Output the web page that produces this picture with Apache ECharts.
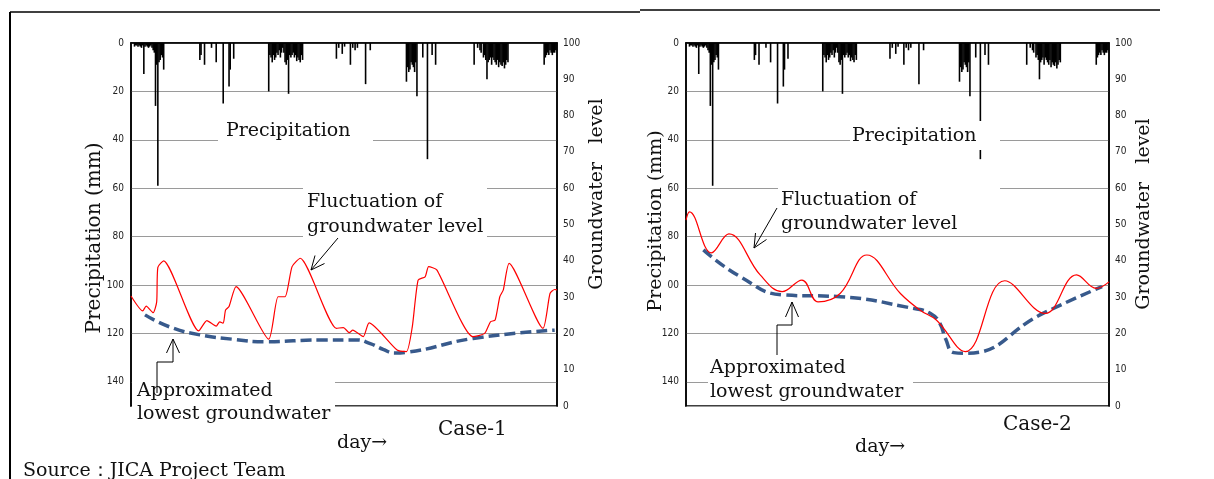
<!DOCTYPE html>
<html>
<head>
<meta charset="utf-8">
<script src="https://cdn.jsdelivr.net/npm/echarts@6/dist/echarts.min.js"></script>
<style>html,body{margin:0;background:#fff}#main{width:1214px;height:479px}</style>
</head>
<body>
<div id="main"></div>
<script>
// daily precipitation (same record used for both cases), day index -> mm
var rainDay = [3, 4, 5, 6, 7, 8, 9, 10, 11, 12, 13, 14, 15, 16, 17, 18, 19, 20, 21, 22, 23, 24, 25, 26, 27, 28,
  59, 60, 63, 69, 73, 79, 84, 85, 88,
  118, 119, 120, 121, 122, 123, 124, 125, 126, 127, 128, 129, 130, 131, 132, 133, 134, 135, 136, 137, 138, 139, 140, 141, 142, 143, 144, 145, 146, 147,
  176, 178, 181, 183, 188, 190, 192, 194, 201, 205,
  236, 237, 238, 239, 240, 241, 242, 243, 244, 245, 250, 254, 258, 261,
  294, 297, 299, 300, 302, 303, 304, 305, 306, 307, 308, 309, 310, 311, 312, 313, 314, 315, 316, 317, 318, 319, 320, 321, 322, 323,
  354, 355, 356, 357, 358, 359, 360, 361, 362, 363, 364];
var rainMm = [1.5, 1, 1, 1.5, 1, 1.5, 2, 1, 12.8, 1.5, 1, 1.5, 2, 1.5, 1, 2, 3, 4, 26, 9, 59, 8, 7, 5, 6, 11,
  7, 5, 9, 2, 8, 25, 18, 11, 6.5,
  20, 5, 6, 8, 5, 7, 6, 4, 5, 3, 6, 4, 2, 4, 8, 9, 7, 21, 5, 6, 5, 4, 6, 5, 7.5, 6, 7, 8, 5, 7,
  6.5, 2, 4.5, 1.5, 9, 2, 3, 2, 17, 3,
  16, 10, 12, 11, 8, 9, 10, 12, 8, 22, 6, 48, 5, 9,
  9, 2, 3, 4, 6, 5, 7, 15, 8, 7, 6, 9, 6, 7, 8, 9, 7, 10, 8, 9, 9.5, 8, 10.5, 9, 7, 8,
  9, 6, 5, 4, 5, 3, 4, 5, 4, 4, 3];

// Case-1 groundwater level
var gw1Day = [0, 10, 13, 19, 22, 23, 28, 58, 65, 73, 76, 79, 81, 84, 90, 118, 126, 132, 138, 145,
  176, 182, 187, 190, 199, 204, 228, 236, 241, 246, 252, 255, 262, 293, 303, 308, 312, 316, 319, 324, 353, 359, 363, 365];
var gw1Level = [30.3, 26.2, 27.5, 25.7, 28.7, 38.2, 40, 20.7, 23.5, 22, 23.2, 22.8, 26.4, 27.4, 32.9, 18.4, 30.1, 30.1, 38.4, 40.7,
  21.4, 21.6, 20.2, 20.9, 19.1, 22.9, 15.4, 15, 21.8, 34.7, 35.6, 38.4, 37.5, 19.1, 20, 23.2, 23.7, 30.1, 32, 39.3, 21.4, 31, 32.1, 32];
var low1Day = [12, 33, 59, 87, 116, 162, 193, 205, 216, 226, 236, 293, 363];
var low1Level = [25.1, 21.8, 19.6, 18.4, 17.7, 18.2, 18.2, 17.2, 15.6, 14.6, 14.8, 18.6, 20.9];

// Case-2 groundwater level
var gw2Day = [0, 3, 22, 37, 64, 83, 100, 114, 133, 156, 185, 202, 216, 241, 275, 310, 337, 354, 365];
var gw2Level = [51.2, 53.5, 42.2, 47.4, 36.1, 31.5, 34.7, 28.7, 31, 41.6, 31, 26.4, 23.7, 15, 34.5, 25.5, 36.1, 32.4, 34.2];
var low2Day = [15, 47, 84, 133, 196, 211, 219, 224, 231, 241, 308, 359];
var low2Level = [43, 35.6, 30.6, 30.1, 26.9, 25.5, 22.8, 18.5, 14.7, 14.5, 25.5, 32.9];

var precipMax = 150;
var levelMax = 100;

function pairs(a, b) {
  return a.map(function (d, i) { return [d, b[i]]; });
}

var numFont = '"Liberation Sans Narrow", "DejaVu Sans Condensed", sans-serif';
var serif = '"DejaVu Serif", serif';
var black = { show: true, lineStyle: { color: '#000', width: 1.5 } };

function precipAxis(g, hide100) {
  return {
    gridIndex: g, type: 'value', inverse: true, min: 0, max: precipMax, interval: 20,
    position: 'left', axisLine: black, axisTick: { show: false },
    axisLabel: {
      fontFamily: numFont, fontSize: 10, color: '#222', margin: 7,
      formatter: function (v) {
        if (v % 20) return '';
        if (hide100 && v === 100) return '00';
        return v;
      }
    },
    splitLine: { show: true, lineStyle: { color: '#9a9a9a', width: 1 } }
  };
}
function levelAxis(g) {
  return {
    gridIndex: g, type: 'value', min: 0, max: levelMax, interval: 10,
    position: 'right', axisLine: black, axisTick: { show: false },
    axisLabel: { fontFamily: numFont, fontSize: 10, color: '#222', margin: 6 },
    splitLine: { show: false }
  };
}
function dayAxis(g) {
  return {
    gridIndex: g, type: 'value', min: 0, max: 365, axisLine: black,
    axisTick: { show: false }, axisLabel: { show: false }, splitLine: { show: false }
  };
}

function box(x, y, w, h) {
  return { type: 'rect', z: 100, shape: { x: x, y: y, width: w, height: h }, style: { fill: '#fff' } };
}
function label(x, y, text, size, lh) {
  return {
    type: 'text', z: 101, x: x, y: y,
    style: { text: text, font: size + 'px ' + serif, fill: '#111', textAlign: 'left', textVerticalAlign: 'middle', lineHeight: lh || size + 5 }
  };
}
function vlabel(x, y, text, size) {
  return {
    type: 'text', z: 101, x: x, y: y, rotation: Math.PI / 2,
    style: { text: text, font: size + 'px ' + serif, fill: '#111', textAlign: 'center', textVerticalAlign: 'middle' }
  };
}
function poly(pts) {
  return { type: 'polyline', z: 101, shape: { points: pts }, style: { stroke: '#000', fill: null, lineWidth: 1 } };
}
function line(x1, y1, x2, y2, w) {
  return { type: 'line', z: 101, shape: { x1: x1, y1: y1, x2: x2, y2: y2 }, style: { stroke: '#000', lineWidth: w } };
}

var rain = pairs(rainDay, rainMm);

function seriesFor(g, gwD, gwL, lowD, lowL, redSmooth) {
  return [
    { type: 'bar', xAxisIndex: g, yAxisIndex: g * 2, data: rain, barWidth: 1.6, itemStyle: { color: '#000' }, silent: true },
    { type: 'line', xAxisIndex: g, yAxisIndex: g * 2 + 1, data: pairs(lowD, lowL), smooth: 0.5, showSymbol: false,
      lineStyle: { color: '#385a8c', width: 3.5, type: [11, 5] }, silent: true },
    { type: 'line', xAxisIndex: g, yAxisIndex: g * 2 + 1, data: pairs(gwD, gwL), smooth: redSmooth, showSymbol: false,
      lineStyle: { color: '#ff0000', width: 1.2 }, silent: true }
  ];
}

var chart = echarts.init(document.getElementById('main'));
chart.setOption({
  backgroundColor: '#fff',
  animation: false,
  grid: [
    { left: 131, top: 43, width: 426, height: 363, show: true, borderColor: '#000', borderWidth: 1.5 },
    { left: 686, top: 43, width: 423, height: 363, show: true, borderColor: '#000', borderWidth: 1.5 }
  ],
  xAxis: [dayAxis(0), dayAxis(1)],
  yAxis: [precipAxis(0, false), levelAxis(0), precipAxis(1, true), levelAxis(1)],
  series: seriesFor(0, gw1Day, gw1Level, low1Day, low1Level, 0.2)
    .concat(seriesFor(1, gw2Day, gw2Level, low2Day, low2Level, 0.4)),
  graphic: [
    // outer frame
    line(10, 12, 10, 479, 2),
    line(10, 12, 640, 12, 1.5),
    line(640, 10, 1160, 10, 1.5),

    // Case-1
    box(218, 117, 155, 28),
    label(226, 131, 'Precipitation', 19),
    box(303, 185, 184, 57),
    label(307, 215, 'Fluctuation of\ngroundwater level', 19, 25),
    poly([[338, 238], [311, 270]]),
    poly([[315, 255.5], [311, 270], [324.5, 263.5]]),
    box(132, 376, 203, 52),
    label(137, 403, 'Approximated\nlowest groundwater', 19, 23),
    poly([[157, 393], [157, 362], [173, 362], [173, 339]]),
    poly([[166.5, 353], [173, 339], [179.5, 353]]),
    label(337, 443, 'day→', 19),
    label(438, 430, 'Case-1', 20),
    vlabel(95, 238, 'Precipitation (mm)', 20),
    vlabel(597, 194, 'Groundwater   level', 19),

    // Case-2
    box(850, 121, 150, 29),
    label(852, 136, 'Precipitation', 19),
    box(778, 184, 222, 49),
    label(781, 212, 'Fluctuation of\ngroundwater level', 19, 24),
    poly([[777, 208], [754, 248]]),
    poly([[755.5, 233], [754, 248], [766.5, 239.5]]),
    box(708, 353, 205, 50),
    label(710, 380, 'Approximated\nlowest groundwater', 19, 24),
    poly([[777, 355], [777, 325], [792, 325], [792, 302]]),
    poly([[785.5, 317], [792, 302], [798.5, 317]]),
    label(855, 447, 'day→', 19),
    label(1003, 425, 'Case-2', 20),
    vlabel(656, 221, 'Precipitation (mm)', 19),
    vlabel(1144, 214, 'Groundwater   level', 19),

    label(23, 471, 'Source：JICA Project Team', 19)
  ]
});
</script>
</body>
</html>
